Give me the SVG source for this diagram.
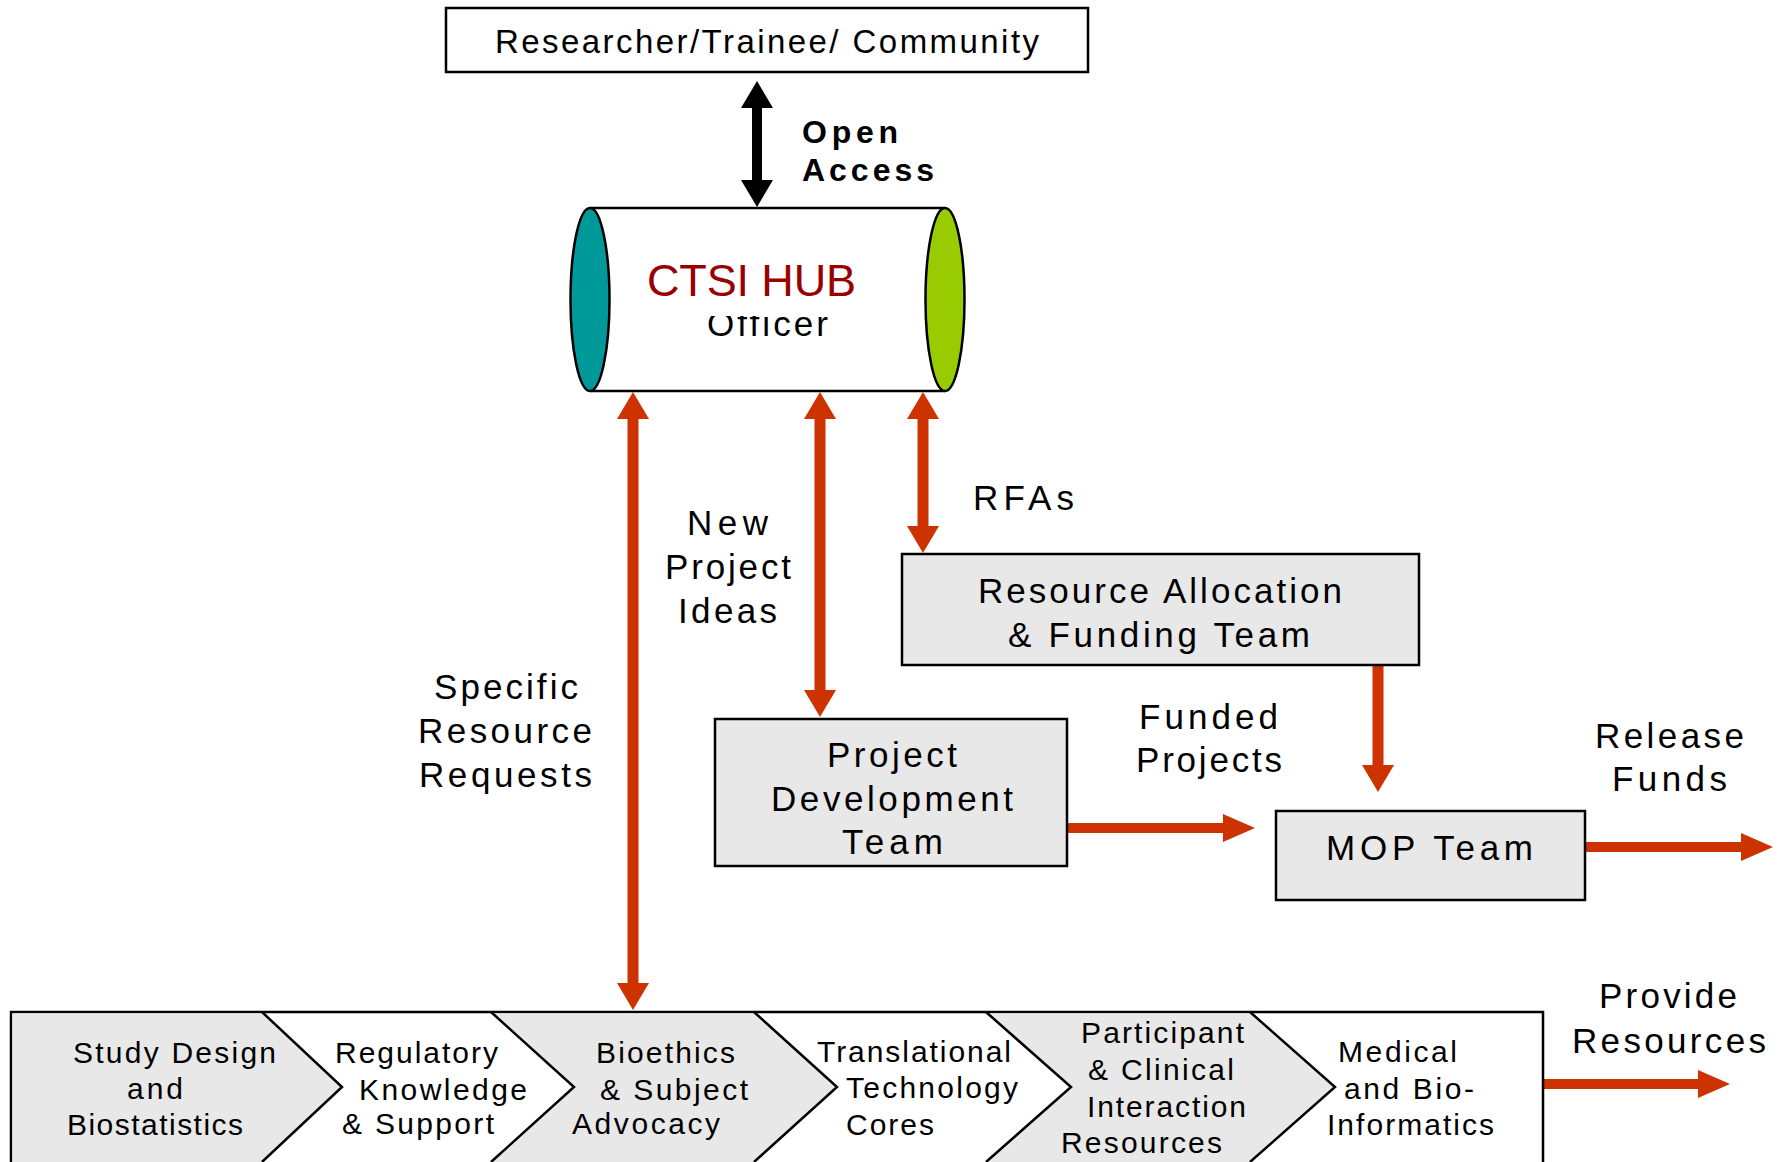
<svg xmlns="http://www.w3.org/2000/svg" width="1783" height="1162" viewBox="0 0 1783 1162">
<style>
  text { font-family: "Liberation Sans", Arial, sans-serif; fill: #000; }
  .t32 { font-size: 33px; }
  .t34 { font-size: 35px; }
  .t29 { font-size: 30px; }
  .bold { font-size: 32px; font-weight: bold; }
  .hub { font-size: 45px; fill: #990000; }
  .box { fill: #E8E8E8; stroke: #000; stroke-width: 2.5; }
  .wbox { fill: #FFFFFF; stroke: #000; stroke-width: 2.5; }
  .edge { fill: none; stroke: #000; stroke-width: 2.5; }
  .red { stroke: #CC3300; stroke-width: 11; fill: none; }
  .redh { stroke: #CC3300; stroke-width: 10; fill: none; }
  .blk { stroke: #000; stroke-width: 10; fill: none; }
  .gray { fill: #E8E8E8; stroke: none; }
</style>
<defs>
  <marker id="rv" markerUnits="userSpaceOnUse" markerWidth="27" markerHeight="32" viewBox="0 0 27 32" refX="1" refY="16" orient="auto-start-reverse">
    <path d="M0,0 L27,16 L0,32 z" fill="#CC3300"/>
  </marker>
  <marker id="rh" markerUnits="userSpaceOnUse" markerWidth="32" markerHeight="28" viewBox="0 0 32 28" refX="1" refY="14" orient="auto-start-reverse">
    <path d="M0,0 L32,14 L0,28 z" fill="#CC3300"/>
  </marker>
  <marker id="bk" markerUnits="userSpaceOnUse" markerWidth="27" markerHeight="32" viewBox="0 0 27 32" refX="1" refY="16" orient="auto-start-reverse">
    <path d="M0,0 L27,16 L0,32 z" fill="#000"/>
  </marker>
  <clipPath id="offclip"><rect x="690" y="316" width="160" height="40"/></clipPath>
</defs>
<rect width="1783" height="1162" fill="#FFFFFF"/>

<g id="connectors">
  <line class="blk" x1="757" y1="107" x2="757" y2="181" marker-start="url(#bk)" marker-end="url(#bk)"/>
  <line class="red" x1="633" y1="418" x2="633" y2="984" marker-start="url(#rv)" marker-end="url(#rv)"/>
  <line class="red" x1="820" y1="418" x2="820" y2="691" marker-start="url(#rv)" marker-end="url(#rv)"/>
  <line class="red" x1="923" y1="418" x2="923" y2="527" marker-start="url(#rv)" marker-end="url(#rv)"/>
  <line class="red" x1="1378" y1="666" x2="1378" y2="766" marker-end="url(#rv)"/>
  <line class="redh" x1="1068" y1="828" x2="1224" y2="828" marker-end="url(#rh)"/>
  <line class="redh" x1="1586" y1="847" x2="1742" y2="847" marker-end="url(#rh)"/>
  <line class="redh" x1="1544" y1="1084" x2="1699" y2="1084" marker-end="url(#rh)"/>
</g>

<g id="researcher">
  <rect class="wbox" x="446" y="8" width="642" height="64"/>
  <text class="t32" x="495" y="53" textLength="544">Researcher/Trainee/ Community</text>
</g>

<g id="open-access-label">
  <text class="bold" x="802" y="143" textLength="96">Open</text>
  <text class="bold" x="802" y="181" textLength="132">Access</text>
</g>

<g id="ctsi-hub">
  <rect x="590" y="208" width="355" height="183" fill="#FFFFFF"/>
  <line class="edge" x1="590" y1="208" x2="945" y2="208"/>
  <line class="edge" x1="590" y1="391" x2="945" y2="391"/>
  <ellipse cx="590" cy="299.5" rx="19.5" ry="91.5" fill="#009999" stroke="#000" stroke-width="2.5"/>
  <ellipse cx="945" cy="299.5" rx="19.5" ry="91.5" fill="#99CC00" stroke="#000" stroke-width="2.5"/>
  <text class="t34" x="707" y="336" textLength="121" clip-path="url(#offclip)">Officer</text>
  <text class="hub" x="647" y="296" textLength="209">CTSI HUB</text>
</g>

<g id="label-rfas"><text class="t34" x="973" y="510" textLength="101">RFAs</text></g>
<g id="label-new-project-ideas">
  <text class="t34" x="687" y="535" textLength="81">New</text>
  <text class="t34" x="665" y="579" textLength="126">Project</text>
  <text class="t34" x="678" y="623" textLength="99">Ideas</text>
</g>
<g id="label-specific">
  <text class="t34" x="434" y="699" textLength="144">Specific</text>
  <text class="t34" x="418" y="743" textLength="174">Resource</text>
  <text class="t34" x="419" y="787" textLength="173">Requests</text>
</g>
<g id="label-funded">
  <text class="t34" x="1139" y="729" textLength="139">Funded</text>
  <text class="t34" x="1136" y="772" textLength="146">Projects</text>
</g>
<g id="label-release">
  <text class="t34" x="1595" y="748" textLength="149">Release</text>
  <text class="t34" x="1612" y="791" textLength="115">Funds</text>
</g>
<g id="label-provide">
  <text class="t34" x="1599" y="1008" textLength="138">Provide</text>
  <text class="t34" x="1572" y="1053" textLength="194">Resources</text>
</g>

<g id="resource-allocation">
  <rect class="box" x="902" y="554" width="517" height="111"/>
  <text class="t34" x="978" y="603" textLength="364">Resource Allocation</text>
  <text class="t34" x="1008" y="647" textLength="302">&amp; Funding Team</text>
</g>

<g id="project-development">
  <rect class="box" x="715" y="719" width="352" height="147"/>
  <text class="t34" x="827" y="767" textLength="130">Project</text>
  <text class="t34" x="771" y="811" textLength="242">Development</text>
  <text class="t34" x="842" y="854" textLength="101">Team</text>
</g>

<g id="mop-team">
  <rect class="box" x="1276" y="811" width="309" height="89"/>
  <text class="t34" x="1326" y="860" textLength="207">MOP Team</text>
</g>

<g id="resources-bar">
  <rect class="wbox" x="11" y="1012" width="1532" height="170" stroke-width="3"/>
  <polygon class="gray" points="12.5,1013.5 262,1013.5 342,1087 262,1162 12.5,1162"/>
  <polygon class="gray" points="491,1013.5 754,1013.5 837,1087 754,1162 491,1162 574,1087"/>
  <polygon class="gray" points="986,1013.5 1250,1013.5 1335,1087 1250,1162 986,1162 1071,1087"/>
  <polyline class="edge" points="262,1012 342,1087 262,1162"/>
  <polyline class="edge" points="491,1012 574,1087 491,1162"/>
  <polyline class="edge" points="754,1012 837,1087 754,1162"/>
  <polyline class="edge" points="986,1012 1071,1087 986,1162"/>
  <polyline class="edge" points="1250,1012 1335,1087 1250,1162"/>
</g>

<g id="study-design">
  <text class="t29" x="73" y="1063" textLength="203">Study Design</text>
  <text class="t29" x="127" y="1099" textLength="56">and</text>
  <text class="t29" x="67" y="1135" textLength="176">Biostatistics</text>
</g>
<g id="regulatory">
  <text class="t29" x="335" y="1063" textLength="163">Regulatory</text>
  <text class="t29" x="359" y="1100" textLength="168">Knowledge</text>
  <text class="t29" x="342" y="1134" textLength="152">&amp; Support</text>
</g>
<g id="bioethics">
  <text class="t29" x="596" y="1063" textLength="139">Bioethics</text>
  <text class="t29" x="600" y="1100" textLength="148">&amp; Subject</text>
  <text class="t29" x="572" y="1134" textLength="148">Advocacy</text>
</g>
<g id="translational">
  <text class="t29" x="817" y="1062" textLength="194">Translational</text>
  <text class="t29" x="846" y="1098" textLength="172">Technology</text>
  <text class="t29" x="846" y="1135" textLength="88">Cores</text>
</g>
<g id="participant">
  <text class="t29" x="1081" y="1043" textLength="163">Participant</text>
  <text class="t29" x="1088" y="1080" textLength="146">&amp; Clinical</text>
  <text class="t29" x="1087" y="1117" textLength="159">Interaction</text>
  <text class="t29" x="1061" y="1153" textLength="161">Resources</text>
</g>
<g id="medical">
  <text class="t29" x="1338" y="1062" textLength="119">Medical</text>
  <text class="t29" x="1344" y="1099" textLength="130">and Bio-</text>
  <text class="t29" x="1327" y="1135" textLength="167">Informatics</text>
</g>
</svg>
